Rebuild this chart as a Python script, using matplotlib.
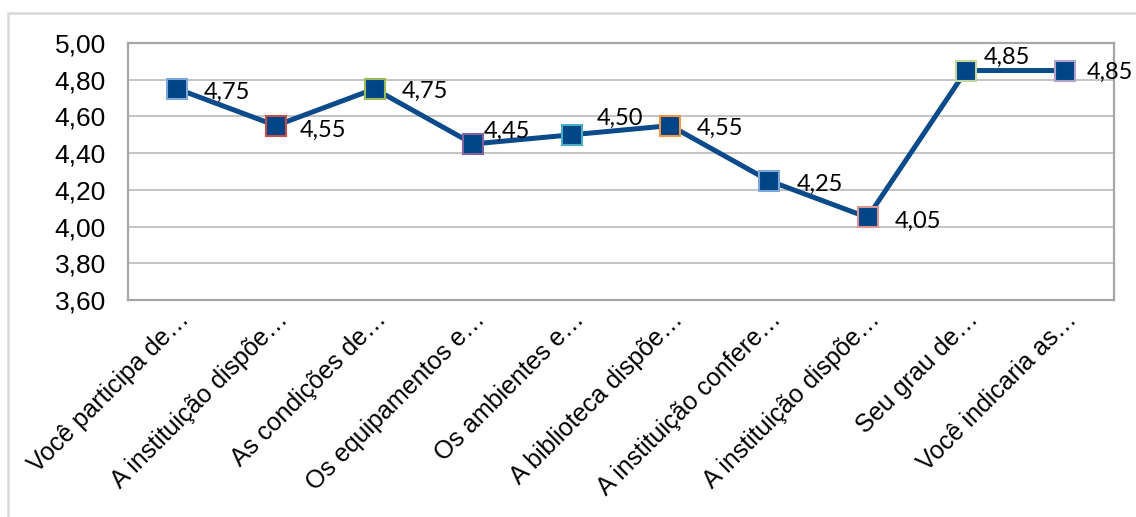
import matplotlib.pyplot as plt
from matplotlib.patches import Rectangle
from matplotlib.transforms import ScaledTranslation

perguntas = ["Você participa de…", "A instituição dispõe…", "As condições de…",
             "Os equipamentos e…", "Os ambientes e…", "A biblioteca dispõe…",
             "A instituição confere…", "A instituição dispõe…", "Seu grau de…",
             "Você indicaria as…"]
medias = [4.75, 4.55, 4.75, 4.45, 4.50, 4.55, 4.25, 4.05, 4.85, 4.85]
rotulos = ["4,75", "4,55", "4,75", "4,45", "4,50", "4,55", "4,25", "4,05", "4,85", "4,85"]
y_ticks = [3.6, 3.8, 4.0, 4.2, 4.4, 4.6, 4.8, 5.0]

# contorno de cada marcador (cores variadas do Office)
bordas = ["#7EA6D8", "#C0504D", "#9BBB59", "#8064A2", "#4BACC6",
          "#F79646", "#7EA6D8", "#D99694", "#C3D69B", "#B3A2C7"]
# deslocamento (px) dos rotulos de dados
desloc = [(26, -3), (24, -5), (27, -2), (11, 13), (25, 16),
          (26, -3), (28, -4), (27, -4), (18, 13), (22, -2)]

azul = "#0B4A8B"

fig = plt.figure(figsize=(11.36, 5.17), dpi=100)
ax = fig.add_axes([128 / 1136, 1 - 300 / 517, 986 / 1136, 257 / 517])

x = list(range(len(medias)))
ax.plot(x, medias, color=azul, lw=3.6, zorder=3)
for i, v in enumerate(medias):
    ax.plot(i, v, marker="s", ms=14.5, mfc="#004586", mec=bordas[i], mew=1.5, zorder=4)
    ax.annotate(rotulos[i], (i, v), xytext=desloc[i], textcoords="offset pixels",
                ha="left", va="center", fontsize=17, family="Lato", color="black", zorder=5)

ax.set_xlim(-0.5, 9.5)
ax.set_ylim(3.6, 5.0)
ax.set_yticks(y_ticks)
ax.set_yticklabels([f"{t:.2f}".replace(".", ",") for t in y_ticks],
                   fontsize=19, family="Liberation Sans")
ax.set_xticks(x)
ax.set_xticklabels(perguntas, rotation=45, ha="right", va="top",
                   rotation_mode="anchor", fontsize=18, family="Liberation Sans")
off = ScaledTranslation(15 / 100, 0, fig.dpi_scale_trans)
for lbl in ax.get_xticklabels():
    lbl.set_transform(lbl.get_transform() + off)
ax.tick_params(axis="both", length=0)
ax.tick_params(axis="y", pad=16)
ax.tick_params(axis="x", pad=5)
ax.grid(axis="y", color="#BFBFBF", lw=1.3)
ax.set_axisbelow(True)
for s in ax.spines.values():
    s.set_color("#A6A6A6")
    s.set_linewidth(1.6)

# moldura externa da area do grafico
fig.patches.append(Rectangle((8 / 1136, -0.1), 1.2, 1 - 13 / 517 + 0.1, transform=fig.transFigure,
                             fill=False, ec="#D9D9D9", lw=1.8))

fig.savefig("out.png", dpi=100)
